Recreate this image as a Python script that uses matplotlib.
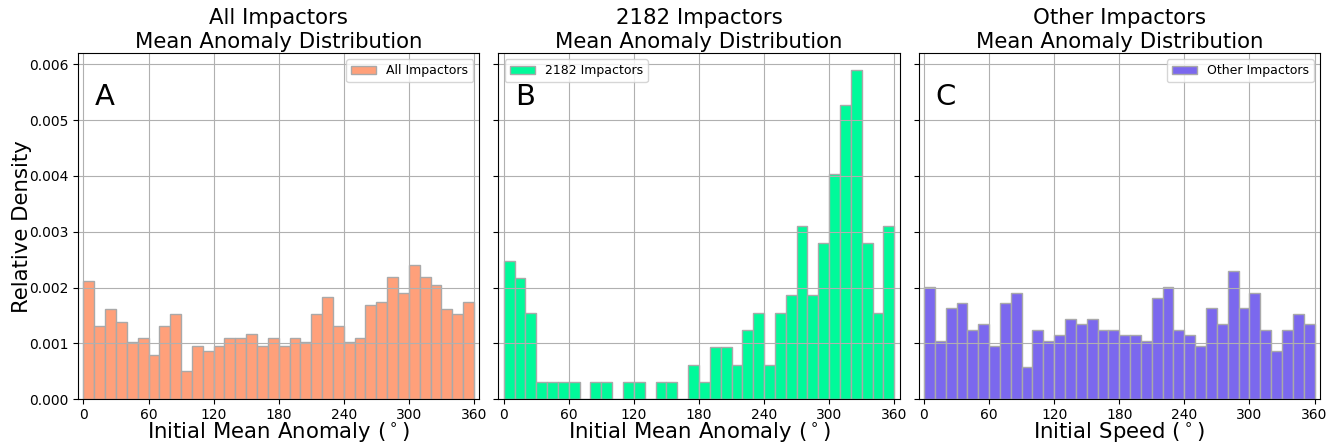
import numpy as np
import matplotlib
matplotlib.use("Agg")
import matplotlib.pyplot as plt

# bin edges: 10 degree bins over the full orbit
bin_edges = np.arange(0, 370, 10)

# relative density per bin (units of 1e-3)
all_impactors = [2.12, 1.31, 1.61, 1.39, 1.02, 1.09, 0.80, 1.31, 1.53, 0.51,
                 0.95, 0.87, 0.95, 1.09, 1.09, 1.17, 0.95, 1.09, 0.95, 1.09,
                 1.02, 1.53, 1.83, 1.31, 1.02, 1.09, 1.68, 1.75, 2.19, 1.90,
                 2.41, 2.19, 2.05, 1.61, 1.53, 1.75]
impactors_2182 = [2.48, 2.17, 1.55, 0.31, 0.31, 0.31, 0.31, 0.00, 0.31, 0.31,
                  0.00, 0.31, 0.31, 0.00, 0.31, 0.31, 0.00, 0.62, 0.31, 0.93,
                  0.93, 0.62, 1.24, 1.55, 0.62, 1.55, 1.86, 3.10, 1.86, 2.79,
                  4.03, 5.27, 5.89, 2.79, 1.55, 3.10]
other_impactors = [2.01, 1.05, 1.63, 1.72, 1.24, 1.34, 0.96, 1.72, 1.91, 0.57,
                   1.24, 1.05, 1.15, 1.43, 1.34, 1.43, 1.24, 1.24, 1.15, 1.15,
                   1.05, 1.82, 2.01, 1.24, 1.15, 0.96, 1.63, 1.34, 2.30, 1.63,
                   1.91, 1.24, 0.86, 1.24, 1.53, 1.34]

titles = ["All Impactors\nMean Anomaly Distribution",
          "2182 Impactors\nMean Anomaly Distribution",
          "Other Impactors\nMean Anomaly Distribution"]
xlabels = ["Initial Mean Anomaly ($^\\circ$)",
           "Initial Mean Anomaly ($^\\circ$)",
           "Initial Speed ($^\\circ$)"]
legend_labels = ["All Impactors", "2182 Impactors", "Other Impactors"]
letters = ["A", "B", "C"]
colors = ["lightsalmon", "mediumspringgreen", "mediumslateblue"]
legend_locs = ["upper right", "upper left", "upper right"]
series = [all_impactors, impactors_2182, other_impactors]

fig, axes = plt.subplots(1, 3, figsize=(13.38, 4.47), dpi=100, sharey=True)
fig.subplots_adjust(left=0.0583, right=0.9865, top=0.881, bottom=0.107, wspace=0.047)

for ax, vals, title, xl, lab, let, col, loc in zip(axes, series, titles, xlabels,
                                                   legend_labels, letters, colors, legend_locs):
    dens = np.array(vals) * 1e-3
    ax.hist(bin_edges[:-1], bins=bin_edges, weights=dens, color=col,
            edgecolor="darkgray", linewidth=1, label=lab)
    ax.set_title(title, fontsize=15.3, pad=4)
    ax.set_xlabel(xl, fontsize=15.3, labelpad=-1)
    ax.set_xticks(np.arange(0, 361, 60))
    ax.tick_params(axis="x", pad=2.5)
    ax.set_xlim(-5, 365)
    ax.grid(True)
    ax.legend(loc=loc, fontsize=9)
    ax.text(0.042, 0.873, let, transform=ax.transAxes, fontsize=21, va="center", ha="left")

axes[0].set_ylabel("Relative Density", fontsize=15.3, labelpad=-2)
axes[0].set_ylim(0, 0.0062)

fig.savefig("out.png", dpi=100)
